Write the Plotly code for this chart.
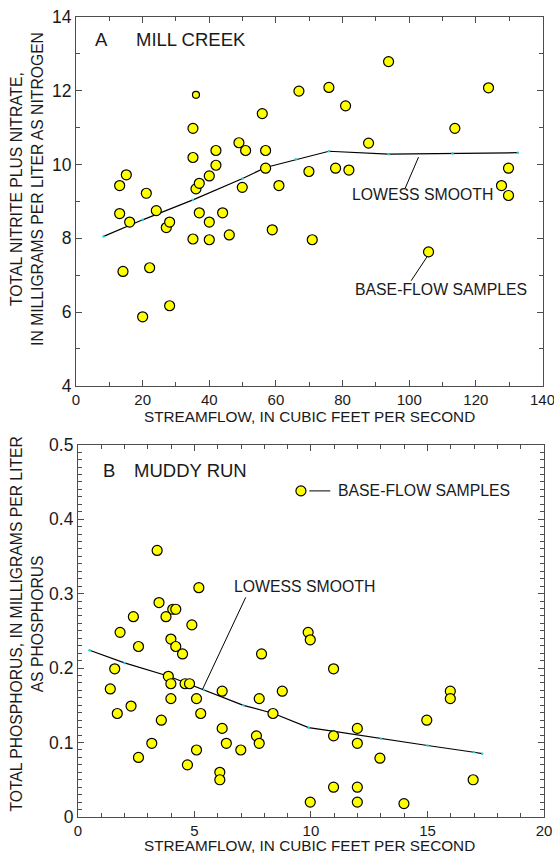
import plotly.graph_objects as go

# ---------------- Panel A: Mill Creek ----------------
mill_flow = [13.1, 15.1, 21.1, 13.1, 16.1, 24.1, 27.1, 28.1, 14.1, 22.1, 28.1, 20.0,
             35.1, 35.1, 36.0, 37.0, 37.0, 35.1, 40.0, 40.0, 40.0, 42.0, 42.0, 44.0,
             46.0, 48.9, 49.9, 50.9, 55.9, 56.9, 56.9, 58.9, 60.9, 66.9, 69.9, 70.9,
             75.9, 77.9, 80.9, 81.9, 87.8, 93.8, 105.8, 113.7, 123.8, 127.7, 129.8, 129.8]
mill_no3 = [9.43, 9.72, 9.22, 8.67, 8.44, 8.75, 8.29, 8.44, 7.10, 7.20, 6.17, 5.87,
            10.98, 10.19, 9.34, 9.49, 8.69, 7.98, 9.69, 8.44, 7.96, 10.38, 9.98, 8.69,
            8.09, 10.59, 9.38, 10.38, 11.38, 10.38, 9.90, 8.23, 9.43, 11.99, 9.81, 7.96,
            12.09, 9.90, 11.59, 9.85, 10.58, 12.79, 7.63, 10.98, 12.08, 9.43, 9.90, 9.16]
mill_small_flow = [36.0]
mill_small_no3 = [11.89]
mill_lowess_x = [8.3, 20, 35.1, 50, 56.9, 66, 75.9, 93.8, 113, 132.6]
mill_lowess_y = [8.05, 8.50, 9.04, 9.62, 9.92, 10.14, 10.36, 10.28, 10.30, 10.32]

# ---------------- Panel B: Muddy Run ----------------
muddy_flow = [3.40, 5.19, 3.48, 4.07, 4.20, 2.38, 3.78, 4.89, 1.81, 3.99, 4.20, 2.60,
              4.49, 7.88, 9.88, 9.97, 1.58, 3.88, 3.99, 4.60, 4.79, 1.39, 6.19, 8.77,
              3.99, 5.09, 7.78, 2.28, 1.69, 5.27, 8.37, 3.58, 6.19, 7.66, 7.78, 6.37,
              3.17, 5.09, 6.99, 2.60, 4.70, 6.09, 6.09, 9.97, 10.97, 15.98, 15.98, 14.97,
              11.99, 10.97, 11.99, 12.96, 16.96, 10.97, 11.99, 11.99, 13.99]
muddy_tp = [0.358, 0.308, 0.288, 0.279, 0.279, 0.269, 0.269, 0.258, 0.248, 0.239, 0.229, 0.229,
            0.219, 0.219, 0.248, 0.238, 0.199, 0.189, 0.179, 0.179, 0.179, 0.172, 0.169, 0.169,
            0.159, 0.159, 0.159, 0.149, 0.139, 0.139, 0.139, 0.130, 0.119, 0.109, 0.099, 0.099,
            0.099, 0.090, 0.090, 0.080, 0.070, 0.060, 0.050, 0.020, 0.199, 0.169, 0.159, 0.130,
            0.119, 0.109, 0.099, 0.079, 0.050, 0.040, 0.040, 0.020, 0.018]
muddy_lowess_x = [0.5, 2.0, 3.9, 5.4, 7.1, 8.4, 9.9, 11.0, 13.0, 15.0, 17.0, 17.35]
muddy_lowess_y = [0.224, 0.207, 0.189, 0.171, 0.150, 0.139, 0.120, 0.115, 0.105, 0.096, 0.087, 0.085]
legend_flow = [9.57]
legend_tp = [0.438]

FONT = "Liberation Sans, Arial, sans-serif"
TXT = "#1a1a1a"
AX = "#4d4d4d"
YEL = "#ffff00"

W, H = 554, 857
ML, MR, MT, MB = 76, 10, 17, 39.5
PW = W - ML - MR
PH = H - MT - MB


def px(xpix):
    return (xpix - ML) / PW


def py(ypix):
    return (H - MB - ypix) / PH


fig = go.Figure()

marker_style = dict(color=YEL, size=10, line=dict(color="black", width=1.2))

# Panel A
fig.add_trace(go.Scatter(x=mill_lowess_x, y=mill_lowess_y, mode="lines+markers",
                         line=dict(color="black", width=1.2),
                         marker=dict(color="#19d3d3", size=2.5),
                         xaxis="x", yaxis="y", showlegend=False, hoverinfo="skip"))
fig.add_trace(go.Scatter(x=mill_flow, y=mill_no3, mode="markers", marker=marker_style,
                         xaxis="x", yaxis="y", showlegend=False))
fig.add_trace(go.Scatter(x=mill_small_flow, y=mill_small_no3, mode="markers",
                         marker=dict(color=YEL, size=7, line=dict(color="black", width=1.2)),
                         xaxis="x", yaxis="y", showlegend=False))

# Panel B
fig.add_trace(go.Scatter(x=muddy_lowess_x, y=muddy_lowess_y, mode="lines+markers",
                         line=dict(color="black", width=1.2),
                         marker=dict(color="#19d3d3", size=2.5),
                         xaxis="x2", yaxis="y2", showlegend=False, hoverinfo="skip"))
fig.add_trace(go.Scatter(x=muddy_flow, y=muddy_tp, mode="markers", marker=marker_style,
                         xaxis="x2", yaxis="y2", showlegend=False))
fig.add_trace(go.Scatter(x=legend_flow, y=legend_tp, mode="markers", marker=marker_style,
                         xaxis="x2", yaxis="y2", showlegend=False, hoverinfo="skip"))

axis_common = dict(showline=True, linecolor=AX, linewidth=1, mirror="ticks",
                   ticks="inside", ticklen=6, tickcolor=AX, tickwidth=1,
                   showgrid=False, zeroline=False, automargin=False,
                   ticklabeloverflow="allow")
xtick_font = dict(family=FONT, size=15, color=TXT)
ytick_font = dict(family=FONT, size=17.5, color=TXT)

fig.update_layout(
    template="none",
    width=W, height=H,
    margin=dict(l=ML, r=MR, t=MT, b=MB, autoexpand=False),
    paper_bgcolor="white", plot_bgcolor="white",
    showlegend=False,
    xaxis=dict(domain=[0, px(542.5)], anchor="y", range=[0, 140], dtick=20,
               minor=dict(dtick=10, ticks="inside", ticklen=4, tickcolor=AX),
               tickfont=xtick_font, **axis_common),
    yaxis=dict(domain=[py(386), 1], anchor="x", range=[4, 14], dtick=2,
               minor=dict(dtick=1, ticks="inside", ticklen=4, tickcolor=AX),
               tickfont=ytick_font, **axis_common),
    xaxis2=dict(domain=[px(77.9), 1], anchor="y2", range=[0, 20], dtick=5,
                minor=dict(dtick=1, ticks="inside", ticklen=4, tickcolor=AX),
                tickfont=xtick_font, **axis_common),
    yaxis2=dict(domain=[0, py(445)], anchor="x2", range=[0, 0.5], dtick=0.1,
                tickformat="~g",
                minor=dict(dtick=0.01, ticks="inside", ticklen=4, tickcolor=AX),
                tickfont=ytick_font, **axis_common),
)

ann_font = dict(family=FONT, size=15.8, color=TXT)
title_font = dict(family=FONT, size=15.3, color=TXT)
panel_font = dict(family=FONT, size=18.5, color=TXT)

annotations = [
    # Panel A labels
    dict(x=5.25, y=13.38, xref="x", yref="y", text="A", showarrow=False,
         xanchor="left", yanchor="middle", font=panel_font),
    dict(x=17.5, y=13.38, xref="x", yref="y", text="MILL CREEK", showarrow=False,
         xanchor="left", yanchor="middle", font=panel_font),
    dict(x=104.1, y=9.18, xref="x", yref="y", text="LOWESS SMOOTH", showarrow=False,
         xanchor="center", yanchor="middle", font=ann_font),
    dict(x=109.4, y=6.60, xref="x", yref="y", text="BASE-FLOW SAMPLES", showarrow=False,
         xanchor="center", yanchor="middle", font=ann_font),
    # Panel B labels
    dict(x=0.99, y=0.466, xref="x2", yref="y2", text="B", showarrow=False,
         xanchor="left", yanchor="middle", font=panel_font),
    dict(x=2.31, y=0.466, xref="x2", yref="y2", text="MUDDY RUN", showarrow=False,
         xanchor="left", yanchor="middle", font=panel_font),
    dict(x=6.62, y=0.310, xref="x2", yref="y2", text="LOWESS SMOOTH", showarrow=False,
         xanchor="left", yanchor="middle", font=ann_font),
    dict(x=11.09, y=0.438, xref="x2", yref="y2", text="BASE-FLOW SAMPLES", showarrow=False,
         xanchor="left", yanchor="middle", font=ann_font),
    # Axis titles
    dict(x=px(309), y=py(416.5), xref="paper", yref="paper",
         text="STREAMFLOW, IN CUBIC FEET PER SECOND", showarrow=False,
         xanchor="center", yanchor="middle", font=title_font),
    dict(x=px(309), y=py(846.5), xref="paper", yref="paper",
         text="STREAMFLOW, IN CUBIC FEET PER SECOND", showarrow=False,
         xanchor="center", yanchor="middle", font=title_font),
    dict(x=px(27), y=py(189), xref="paper", yref="paper",
         text="TOTAL NITRITE PLUS NITRATE,<br>IN MILLIGRAMS PER LITER AS NITROGEN",
         showarrow=False, textangle=-90, xanchor="center", yanchor="middle",
         font=dict(family=FONT, size=15.7, color=TXT)),
    dict(x=px(27), y=py(625), xref="paper", yref="paper",
         text="TOTAL PHOSPHORUS, IN MILLIGRAMS PER LITER<br>AS PHOSPHORUS",
         showarrow=False, textangle=-90, xanchor="center", yanchor="middle",
         font=dict(family=FONT, size=15.7, color=TXT)),
]
fig.update_layout(annotations=annotations)

shapes = [
    dict(type="line", xref="x", yref="y", x0=102.8, y0=10.2, x1=98.8, y1=9.36,
         line=dict(color="black", width=1)),
    dict(type="line", xref="x", yref="y", x0=105.3, y0=7.49, x1=100.6, y1=6.85,
         line=dict(color="black", width=1)),
    dict(type="line", xref="x2", yref="y2", x0=7.2, y0=0.295, x1=5.34, y1=0.171,
         line=dict(color="black", width=1)),
    dict(type="line", xref="x2", yref="y2", x0=9.93, y0=0.438, x1=10.83, y1=0.438,
         line=dict(color="black", width=1)),
]
fig.update_layout(shapes=shapes)

fig.write_html("out.html", config={"displayModeBar": False},
               post_script="document.body.style.margin='0';document.body.style.overflow='hidden';")
